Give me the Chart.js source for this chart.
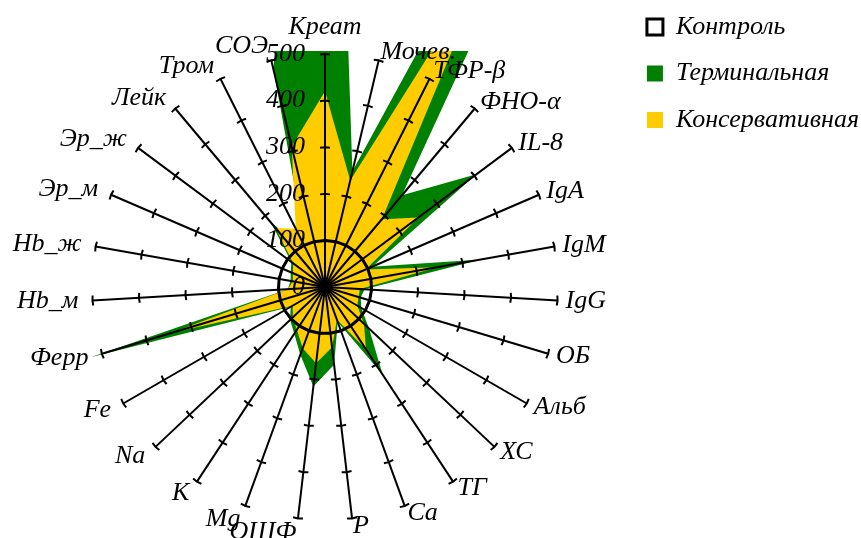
<!DOCTYPE html>
<html>
<head>
<meta charset="utf-8">
<script src="https://cdn.jsdelivr.net/npm/chart.js@4.4.1/dist/chart.umd.min.js"></script>
<style>
  html, body { margin: 0; padding: 0; background: #ffffff; }
  #wrap { width: 861px; height: 538px; position: relative; }
</style>
</head>
<body>
<div id="wrap"><canvas id="c"></canvas></div>
<script>
const categories = ['Креат','Мочев.','ТФР-β','ФНО-α','IL-8','IgA','IgM','IgG','ОБ','Альб','ХС','ТГ','Ca','P','ОЩФ','Mg','K','Na','Fe','Ферр','Hb_м','Hb_ж','Эр_м','Эр_ж','Лейк','Тром','СОЭ'];
const seriesNames = ['Контроль', 'Терминальная', 'Консервативная'];
const control      = [100,100,100,100,100,100,100,100,100,100,100,100,100,100,100,100,100,100,100,100,100,100,100,100,100,100,100];
const terminal     = [2000,255,2000,257,405,110,340,85,80,90,130,225,80,168,215,155,120,103,85,525,80,75,80,90,180,90,480];
const conservative = [420,235,800,190,250,95,245,75,75,80,115,160,75,130,165,140,110,95,80,345,80,70,75,85,165,140,310];
const tickValues = [0,100,200,300,400,500];

const FONT = 'italic 26px "Liberation Serif"';

// Clip the data layer to the plot area (Excel-like), derived from the radial scale
const clipPlugin = {
  id: 'plotClip',
  beforeDatasetsDraw(chart) {
    const s = chart.scales.r;
    const ctx = chart.ctx;
    ctx.save();
    ctx.beginPath();
    ctx.rect(0, s.yCenter - s.drawingArea - 3, chart.width, chart.height);
    ctx.clip();
  },
  afterDatasetsDraw(chart) {
    chart.ctx.restore();
  }
};

const labelPlugin = {
  id: 'excelLabels',
  afterDraw(chart) {
    const s = chart.scales.r;
    const ctx = chart.ctx;
    ctx.save();
    ctx.font = FONT;
    ctx.fillStyle = '#000';
    ctx.textAlign = 'right';
    ctx.textBaseline = 'middle';
    tickValues.forEach(v => {
      const p = s.getPointPosition(0, s.getDistanceFromCenterForValue(v));
      ctx.fillText(String(v), p.x - 20, p.y);
    });
    const R = s.drawingArea;
    categories.forEach((name, i) => {
      const a = s.getIndexAngle(i);
      const sn = Math.sin(a);
      if (Math.abs(sn) < 0.05) {
        const p = s.getPointPosition(i, R + 14);
        ctx.textAlign = 'center';
        ctx.textBaseline = 'bottom';
        ctx.fillText(name, p.x, p.y);
      } else if (sn > 0) {
        const p = s.getPointPosition(i, R + 8);
        ctx.textAlign = 'left';
        ctx.textBaseline = 'middle';
        ctx.fillText(name, p.x, p.y);
      } else {
        const p = s.getPointPosition(i, R + 14);
        ctx.textAlign = 'right';
        ctx.textBaseline = 'middle';
        ctx.fillText(name, p.x, p.y);
      }
    });
    ctx.restore();
  }
};

new Chart(document.getElementById('c'), {
  type: 'radar',
  data: {
    labels: categories,
    datasets: [
      { label: seriesNames[0], data: control, fill: false, borderColor: '#000000',
        backgroundColor: 'rgba(0,0,0,0)', borderWidth: 3, pointRadius: 0, order: 0 },
      { label: seriesNames[1], data: terminal, fill: true, borderColor: '#008000',
        backgroundColor: '#008000', borderWidth: 0, pointRadius: 0, order: 2 },
      { label: seriesNames[2], data: conservative, fill: true, borderColor: '#FFCC00',
        backgroundColor: '#FFCC00', borderWidth: 0, pointRadius: 0, order: 1 }
    ]
  },
  options: {
    responsive: true,
    maintainAspectRatio: false,
    animation: false,
    layout: { padding: { right: -8 } },
    elements: { line: { tension: 0 } },
    scales: {
      r: {
        min: 0, max: 500,
        ticks: { stepSize: 100, display: false },
        pointLabels: { display: false },
        angleLines: { color: '#000', lineWidth: 2 },
        grid: { z: 1, color: '#000', lineWidth: 2 },
        border: {
          dash: (c) => {
            const r = c.scale.getDistanceFromCenterForValue(c.tick.value);
            const side = 2 * r * Math.sin(Math.PI / categories.length);
            return [10, Math.max(side - 10, 0.1)];
          },
          dashOffset: 5
        },
        afterFit: (s) => { s.xCenter = 325; s.yCenter = 287; s.drawingArea = 233; }
      }
    },
    plugins: {
      tooltip: { enabled: false },
      legend: {
        position: 'right',
        align: 'start',
        labels: {
          color: '#000',
          font: { family: 'Liberation Serif', style: 'italic', size: 26, lineHeight: 1.25 },
          boxWidth: 16, boxHeight: 16, padding: 14,
          generateLabels: (chart) => Chart.defaults.plugins.legend.labels.generateLabels(chart)
            .sort((a, b) => a.datasetIndex - b.datasetIndex)
            .map(it => Object.assign(it, { text: [it.text] }))
        }
      }
    }
  },
  plugins: [clipPlugin, labelPlugin]
});
</script>
</body>
</html>
